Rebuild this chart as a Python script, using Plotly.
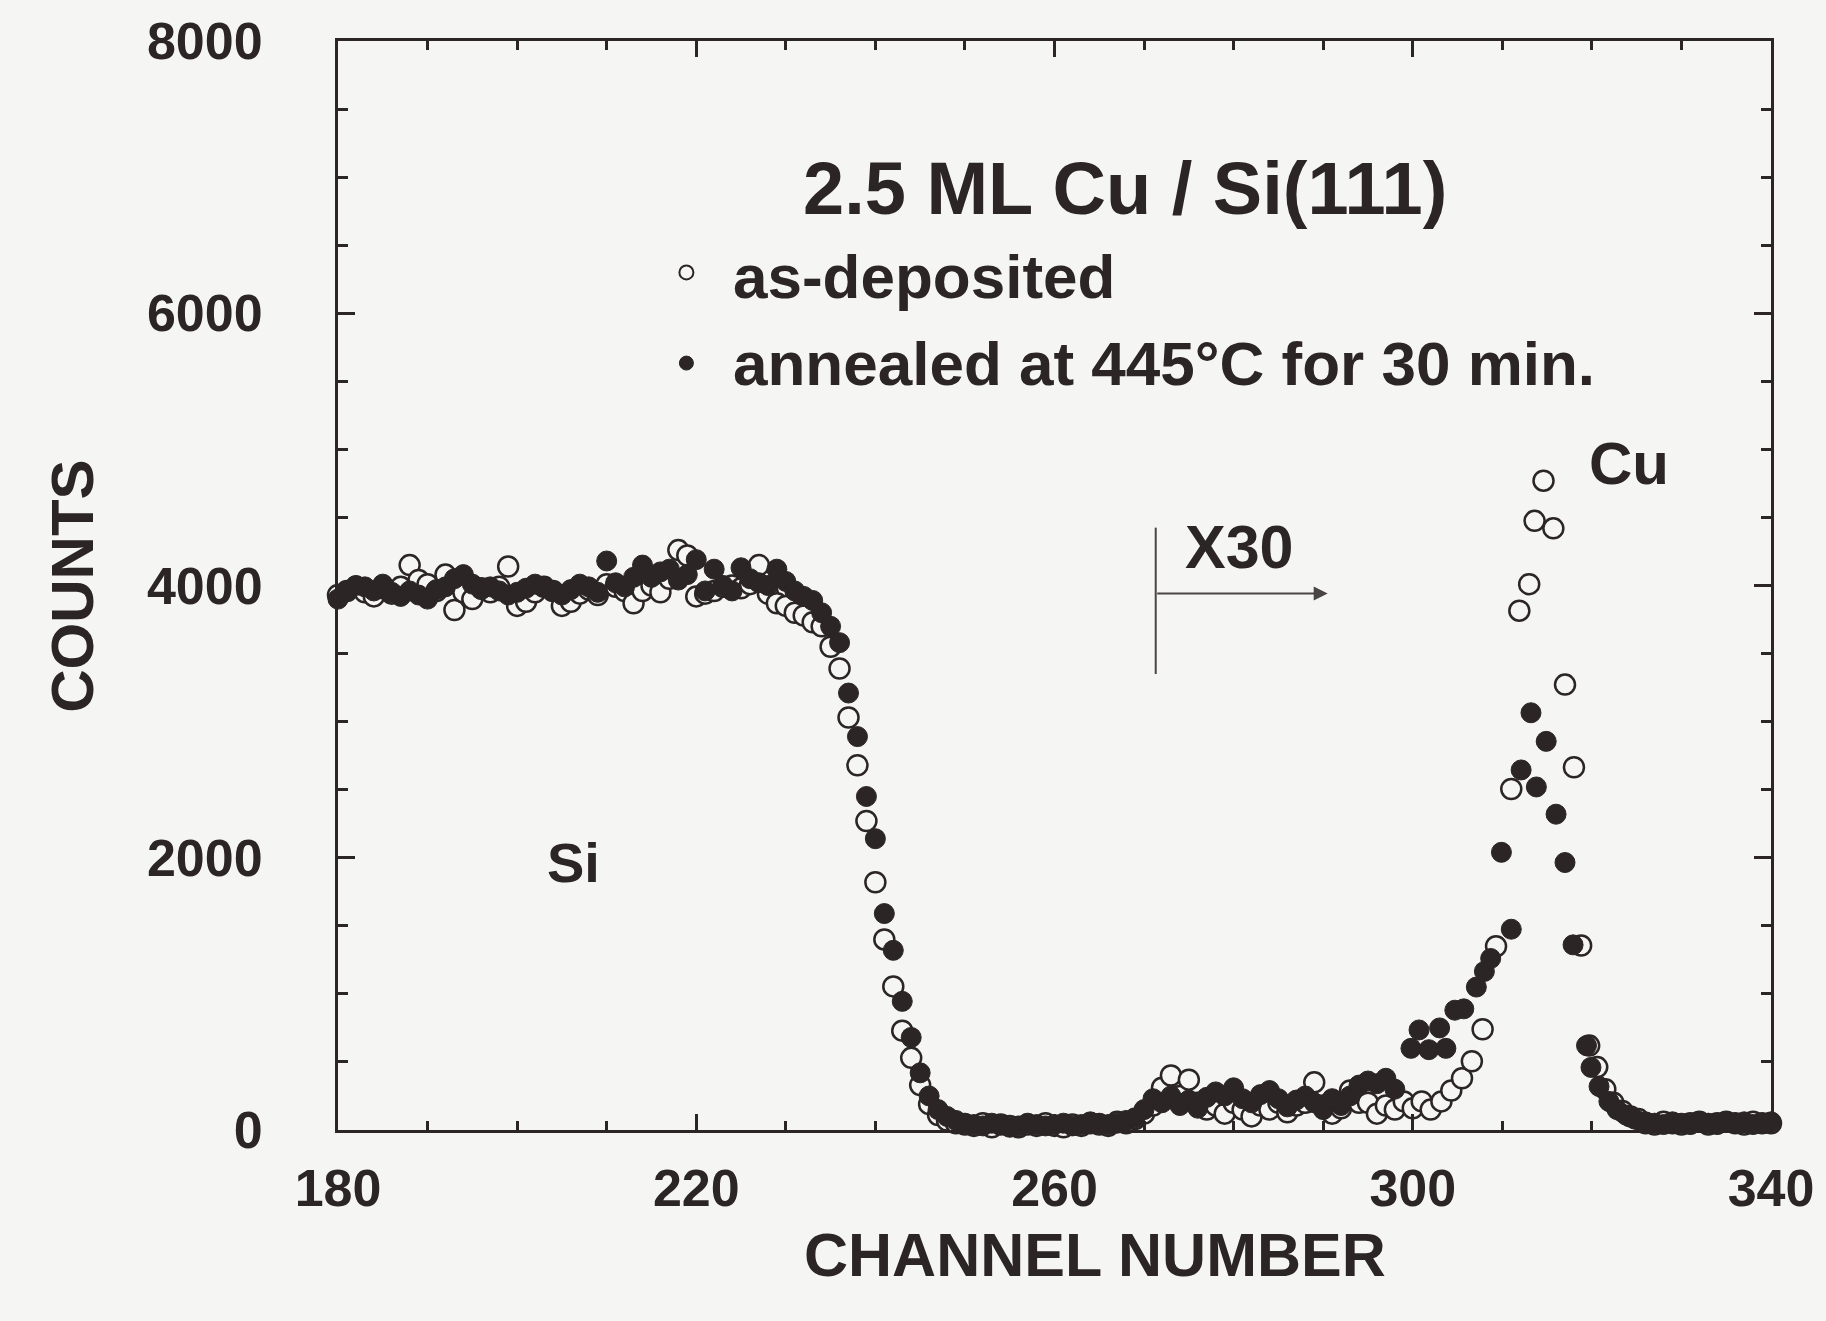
import plotly.graph_objects as go

# ---------------- data ----------------
# as-deposited (open circles)
ch_dep = list(range(180, 303)) + [303.2, 304.3, 305.5, 306.6, 307.8, 309.3, 311.0, 311.9, 313.0,
                                  313.6, 314.6, 315.7, 317.0, 318.0, 318.8, 319.7, 320.6, 321.5,
                                  322.4, 323.4, 324.3, 325.2] + list(range(326, 341))
counts_dep = [
    3930, 3960, 3990, 3950, 3920, 3980, 3940, 3990, 4150, 4040,   # 180-189
    4010, 3960, 4080, 3820, 3950, 3900, 3980, 3950, 3990, 4140,   # 190-199
    3850, 3880, 3950, 3990, 3960, 3850, 3880, 3940, 3970, 3930,   # 200-209
    4010, 3990, 3960, 3870, 3960, 4000, 3950, 4050, 4260, 4220,   # 210-219
    3920, 3940, 3960, 3990, 4000, 3980, 4010, 4150, 3940, 3870,   # 220-229
    3850, 3800, 3780, 3730, 3700, 3550, 3390, 3030, 2680, 2270,   # 230-239
    1820, 1400, 1055, 730, 530, 330, 190, 110, 70, 50,            # 240-249
    40, 30, 50, 20, 40, 30, 20, 40, 30, 50,                       # 250-259
    30, 20, 40, 30, 50, 40, 30, 60, 50, 80,                       # 260-269
    120, 180, 310, 400, 250, 370, 200, 150, 180, 120,             # 270-279
    200, 150, 100, 180, 150, 200, 130, 180, 200, 350,             # 280-289
    180, 120, 160, 290, 200, 200, 120, 180, 150, 210,             # 290-299
    160, 210, 150,                                                # 300-302
    210, 290, 380, 505, 740, 1350, 2505, 3815, 4010,
    4475, 4770, 4420, 3272, 2665, 1355, 620, 462, 300,
    200, 140, 100, 80,
    50, 40, 60, 50, 40, 50, 60, 40, 50, 60, 50, 40, 60, 50, 50,   # 326-340
]

# annealed at 445 C for 30 min (filled circles)
ch_ann = list(range(180, 299)) + [299.8, 300.7, 301.8, 303.0, 303.7, 304.7, 305.7, 307.1, 308.0,
                                  308.7, 309.9, 311.0, 312.1, 313.2, 313.8, 314.9, 316.0, 317.0,
                                  317.9, 319.4, 319.9, 320.8, 321.9, 322.8, 323.8, 324.8] + list(range(326, 341))
counts_ann = [
    3900, 3960, 4000, 3990, 3960, 4010, 3950, 3920, 3960, 3930,   # 180-189
    3900, 3970, 3990, 4050, 4080, 4010, 3970, 3990, 3960, 3930,   # 190-199
    3950, 3980, 4010, 3990, 3960, 3930, 3970, 4010, 3990, 3950,   # 200-209
    4180, 4020, 3990, 4060, 4150, 4060, 4100, 4120, 4040, 4080,   # 210-219
    4190, 3960, 4120, 4000, 3960, 4130, 4050, 4020, 4000, 4120,   # 220-229
    4030, 3960, 3920, 3890, 3800, 3700, 3580, 3210, 2890, 2450,   # 230-239
    2140, 1590, 1320, 945, 680, 420, 250, 150, 100, 70,           # 240-249
    50, 40, 30, 50, 40, 20, 30, 50, 40, 30,                       # 250-259
    40, 50, 30, 40, 60, 50, 40, 50, 70, 90,                       # 260-269
    150, 230, 200, 250, 180, 220, 160, 240, 280, 250,             # 270-279
    310, 230, 200, 260, 290, 230, 170, 220, 250, 200,             # 280-289
    150, 230, 180, 250, 330, 360, 340, 380, 300,                  # 290-298
    600, 735, 590, 750, 600, 880, 890, 1050, 1165,
    1260, 2040, 1475, 2645, 3065, 2520, 2855, 2320, 1965,
    1360, 620, 460, 320, 210, 150, 110, 80,
    60, 50, 40, 60, 50, 40, 60, 50, 40, 60, 50, 60, 40, 50, 60,   # 326-340
]

x_ticks = [180, 220, 260, 300, 340]
y_ticks = [0, 2000, 4000, 6000, 8000]

# ---------------- styling ----------------
BG = "#f5f5f3"
INK = "#2b2525"
FONT = "Liberation Sans, Arial, Helvetica, sans-serif"

fig = go.Figure()

fig.add_trace(go.Scatter(
    x=ch_dep, y=counts_dep, mode="markers", name="as-deposited",
    cliponaxis=False,
    marker=dict(symbol="circle", size=20, color=BG, line=dict(color=INK, width=2.5)),
))
fig.add_trace(go.Scatter(
    x=ch_ann, y=counts_ann, mode="markers", name="annealed at 445°C for 30 min.",
    cliponaxis=False,
    marker=dict(symbol="circle", size=20, color=INK, line=dict(color=INK, width=1)),
))

axis_common = dict(
    showline=True, linecolor=INK, linewidth=3, mirror="allticks",
    ticks="inside", tickcolor=INK, tickwidth=3,
    showgrid=False, zeroline=False,
    tickfont=dict(family=FONT, size=52, color=INK, weight="bold"),
)

fig.update_xaxes(
    range=[180, 340], tickvals=x_ticks, ticklen=16, ticklabelstandoff=11,
    minor=dict(dtick=10, ticklen=9, ticks="inside", tickcolor=INK, tickwidth=3, showgrid=False),
    **axis_common,
)
fig.update_yaxes(
    range=[0, 8000], tickvals=y_ticks, ticklen=17, ticklabelstandoff=62,
    minor=dict(dtick=500, ticklen=10, ticks="inside", tickcolor=INK, tickwidth=3, showgrid=False),
    **axis_common,
)

def txt(x, y, s, size, xanchor="center", xref="x", yref="y", angle=0, weight="bold"):
    return dict(x=x, y=y, xref=xref, yref=yref, text=s, showarrow=False,
                xanchor=xanchor, yanchor="middle", textangle=angle,
                font=dict(family=FONT, size=size, color=INK, weight=weight))

annotations = [
    txt(267.9, 6916, "2.5 ML Cu / Si(111)", 74),
    txt(223.9, 6271, "as-deposited", 62, xanchor="left"),
    txt(223.9, 5634, "annealed at 445°C for 30 min.", 62, xanchor="left"),
    txt(324.2, 4894, "Cu", 60),
    txt(206.3, 1963, "Si", 56),
    txt(280.6, 4286, "X30", 61),
    txt(0.528, -0.115, "CHANNEL NUMBER", 61, xref="paper", yref="paper"),
    txt(-0.1855, 0.499, "COUNTS", 60, xref="paper", yref="paper", angle=-90),
    dict(x=290.5, y=3941, ax=271.3, ay=3941, xref="x", yref="y", axref="x", ayref="y",
         text="", showarrow=True, arrowhead=2, arrowsize=1.4, arrowwidth=2, arrowcolor="#4a4444"),
]

shapes = [
    dict(type="line", xref="x", yref="y", x0=271.3, x1=271.3, y0=3350, y1=4425,
         line=dict(color="#4a4444", width=2)),
    # legend symbols
    dict(type="circle", xref="x", yref="y", xsizemode="pixel", ysizemode="pixel",
         xanchor=218.9, yanchor=6300, x0=-7, x1=7, y0=-7, y1=7,
         fillcolor=BG, line=dict(color=INK, width=2)),
    dict(type="circle", xref="x", yref="y", xsizemode="pixel", ysizemode="pixel",
         xanchor=218.9, yanchor=5634, x0=-7, x1=7, y0=-7, y1=7,
         fillcolor=INK, line=dict(color=INK, width=1)),
]

fig.update_layout(
    width=1826, height=1321,
    margin=dict(l=338, r=54, t=38, b=191),
    paper_bgcolor=BG, plot_bgcolor=BG,
    showlegend=False,
    annotations=annotations, shapes=shapes,
)

fig.write_html("out.html")
